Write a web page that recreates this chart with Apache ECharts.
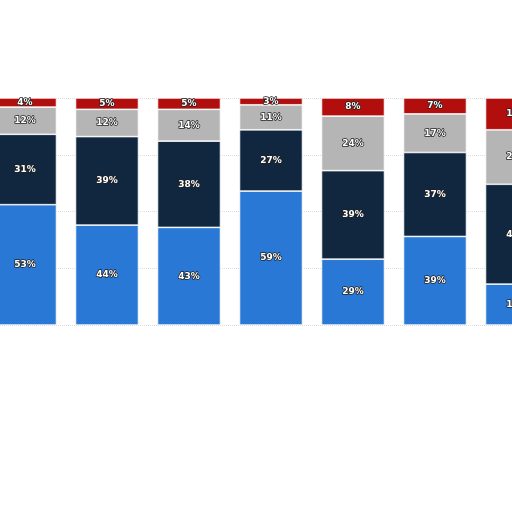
<!DOCTYPE html><html><head><meta charset="utf-8"><script src="https://cdn.jsdelivr.net/npm/echarts@6/dist/echarts.min.js"></script></head><body style="margin:0;background:#fff;overflow:hidden;width:512px;height:512px;position:relative"><div id="c" style="position:absolute;left:-16px;top:0;width:574px;height:512px"></div><script>
const categories=['A','B','C','D','E','F','G'];
const blue=[53,44,43,59,29,39,18];
const navy=[31,39,38,27,39,37,44];
const grey=[12,12,14,11,24,17,24];
const red=[4,5,5,3,8,7,14];
const colors=['#2a78d6','#11263f','#b5b5b5','#b30e0e'];
const mk=(d,i)=>({type:'bar',stack:'s',data:d,barWidth:63,itemStyle:{color:colors[i],borderColor:'#fff',borderWidth:0.7},
label:{show:true,formatter:'{c}%',color:'#fff',fontSize:9,fontWeight:'bold',fontFamily:'DejaVu Sans',textBorderColor:'#222',textBorderWidth:1.5}});
const ch=echarts.init(document.getElementById('c'));
ch.setOption({animation:false,grid:{left:0,right:0,top:98,bottom:187},
xAxis:{type:'category',data:categories,show:false},
yAxis:{type:'value',min:0,max:100,interval:25,axisLabel:{show:false},axisLine:{show:false},axisTick:{show:false},splitLine:{lineStyle:{type:'dotted',color:'#ddd'}}},
series:[mk(blue,0),mk(navy,1),mk(grey,2),mk(red,3)]});
</script></body></html>
